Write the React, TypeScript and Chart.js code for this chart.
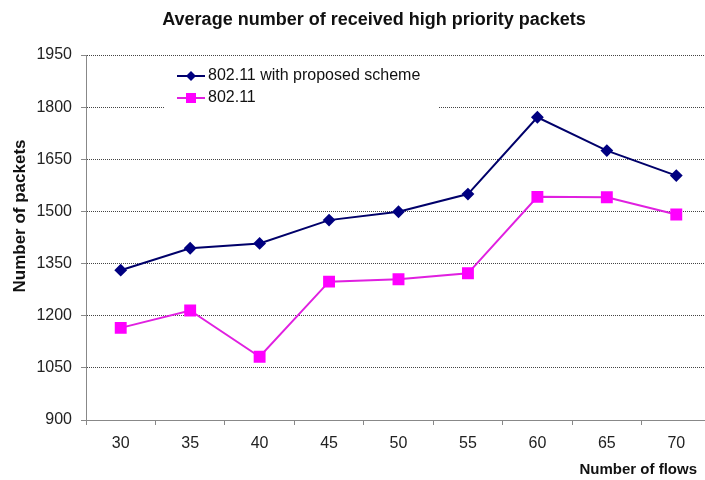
import React, { useEffect, useRef } from "react";
import { Chart, registerables } from "chart.js";

Chart.register(...registerables);

const chartTitle = "Average number of received high priority packets";
const xAxisTitle = "Number of flows";
const yAxisTitle = "Number of packets";
const categories = ["30", "35", "40", "45", "50", "55", "60", "65", "70"];
const proposedLabel = "802.11 with proposed scheme";
const proposedValues = [1331, 1394, 1408, 1475, 1499, 1550, 1771, 1675, 1603];
const plainLabel = "802.11";
const plainValues = [1165, 1215, 1082, 1298, 1305, 1322, 1542, 1541, 1491];
const yMin = 900;
const yMax = 1950;
const yStep = 150;

const FONT = '"Liberation Sans", Arial, sans-serif';

const decorPlugin = {
  id: "decor",
  afterDraw(chart: any) {
    const ctx = chart.ctx;
    const area = chart.chartArea;
    ctx.save();
    // Chart title
    ctx.fillStyle = "#111";
    ctx.font = `bold 18px ${FONT}`;
    ctx.textAlign = "center";
    ctx.textBaseline = "middle";
    ctx.fillText(chartTitle, 374, 20);
    // X axis title
    ctx.font = `bold 15px ${FONT}`;
    ctx.textAlign = "right";
    ctx.fillText(xAxisTitle, area.right - 14, 470);
    // Y axis title
    ctx.save();
    ctx.translate(20, 216);
    ctx.rotate(-Math.PI / 2);
    ctx.font = `bold 17px ${FONT}`;
    ctx.textAlign = "center";
    ctx.textBaseline = "middle";
    ctx.fillText(yAxisTitle, 0, 0);
    ctx.restore();
    // Legend (inside plot)
    ctx.fillStyle = "#fff";
    ctx.fillRect(165, 64, 273, 46);
    const entries = chart.data.datasets;
    entries.forEach((ds: any, i: number) => {
      const y = 76 + i * 22;
      ctx.strokeStyle = ds.borderColor;
      ctx.lineWidth = 2;
      ctx.beginPath();
      ctx.moveTo(177, y);
      ctx.lineTo(205, y);
      ctx.stroke();
      ctx.fillStyle = ds.pointBackgroundColor;
      const cx = 191;
      if (ds.pointStyle === "rectRot") {
        ctx.beginPath();
        ctx.moveTo(cx - 5, y);
        ctx.lineTo(cx, y - 5);
        ctx.lineTo(cx + 5, y);
        ctx.lineTo(cx, y + 5);
        ctx.closePath();
        ctx.fill();
      } else {
        ctx.fillRect(cx - 5, y - 5, 10, 10);
      }
      ctx.fillStyle = "#111";
      ctx.font = `16px ${FONT}`;
      ctx.textAlign = "left";
      ctx.textBaseline = "middle";
      ctx.fillText(ds.label, 208, y);
    });
    ctx.restore();
  },
};

export default function App() {
  const ref = useRef<HTMLCanvasElement | null>(null);
  useEffect(() => {
    if (!ref.current) return;
    const chart = new Chart(ref.current, {
      type: "line",
      data: {
        labels: categories,
        datasets: [
          {
            label: proposedLabel,
            data: proposedValues,
            borderColor: "#00006a",
            backgroundColor: "#000080",
            pointBackgroundColor: "#000080",
            pointBorderColor: "#000080",
            pointStyle: "rectRot",
            pointRadius: 5,
            borderWidth: 2,
            tension: 0,
          },
          {
            label: plainLabel,
            data: plainValues,
            borderColor: "#e020e0",
            backgroundColor: "#ff00ff",
            pointBackgroundColor: "#ff00ff",
            pointBorderColor: "#ff00ff",
            pointStyle: "rect",
            pointRadius: 7,
            borderWidth: 2,
            tension: 0,
          },
        ],
      },
      options: {
        responsive: false,
        animation: false,
        devicePixelRatio: 1,
        layout: { padding: { top: 55, right: 9, left: 0, bottom: 0 } },
        plugins: {
          legend: { display: false },
          title: { display: false },
          tooltip: { enabled: false },
        },
        scales: {
          x: {
            type: "category",
            offset: true,
            afterFit: (s: any) => {
              s.height = 60;
            },
            border: { display: true, color: "#888", width: 1 },
            grid: {
              display: true,
              drawOnChartArea: false,
              drawTicks: true,
              offset: true,
              tickLength: 5,
              tickColor: "#888",
            },
            ticks: {
              color: "#222",
              font: { family: FONT, size: 16 },
              padding: 9,
              maxRotation: 0,
              autoSkip: false,
            },
          },
          y: {
            min: yMin,
            max: yMax,
            afterFit: (s: any) => {
              s.width = 86;
            },
            border: { display: true, color: "#888", width: 1, dash: [1, 1] },
            grid: {
              color: (c: any) => (c.tick && c.tick.value === yMin ? "rgba(0,0,0,0)" : "#444"),
              lineWidth: 1,
              drawTicks: true,
              tickLength: 5,
              tickColor: "#888",
              tickBorderDash: [],
            },
            ticks: {
              stepSize: yStep,
              color: "#222",
              font: { family: FONT, size: 16 },
              padding: 9,
              callback: (v: any) => String(v),
            },
          },
        },
      },
      plugins: [decorPlugin],
    });
    return () => chart.destroy();
  }, []);
  return (
    <div
      style={{
        position: "fixed",
        left: 0,
        top: 0,
        width: 705,
        height: 480,
        overflow: "hidden",
        background: "#fff",
      }}
    >
      <canvas ref={ref} width={720} height={480} style={{ display: "block" }} />
    </div>
  );
}
